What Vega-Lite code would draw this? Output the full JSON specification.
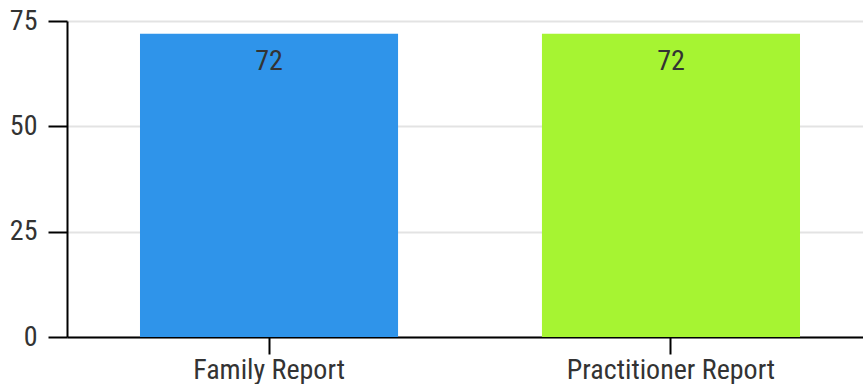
{
  "$schema": "https://vega.github.io/schema/vega-lite/v6.json",
  "autosize": {"type": "none"},
  "width": 796,
  "height": 316,
  "padding": {"left": 67, "top": 21, "right": 0, "bottom": 47},
  "background": "white",
  "data": {"values": [
    {"report": "Family Report", "value": 72},
    {"report": "Practitioner Report", "value": 72}
  ]},
  "config": {
    "view": {"stroke": null},
    "font": "Roboto Condensed, Roboto"
  },
  "encoding": {
    "x": {
      "field": "report", "type": "nominal", "sort": null,
      "scale": {"range": [0, 806], "paddingInner": 0.358, "paddingOuter": 0.1816},
      "axis": {
        "title": null, "labelAngle": 0, "labelFontSize": 28, "labelColor": "#333333",
        "labelFont": "Roboto Condensed, Roboto", "labelLimit": 0,
        "domainColor": "#000000", "domainWidth": 2, "tickColor": "#000000", "tickWidth": 2,
        "tickSize": 17, "labelPadding": 2, "grid": false
      }
    },
    "y": {
      "field": "value", "type": "quantitative",
      "scale": {"domain": [0, 75], "nice": false},
      "axis": {
        "title": null, "values": [0, 25, 50, 75], "labelFontSize": 28, "labelColor": "#333333",
        "labelFont": "Roboto Condensed, Roboto",
        "domainColor": "#000000", "domainWidth": 2, "tickColor": "#000000", "tickWidth": 2,
        "tickSize": 19, "labelPadding": 11, "gridColor": "#e3e3e3", "gridWidth": 2
      }
    }
  },
  "layer": [
    {
      "mark": {"type": "bar"},
      "encoding": {
        "color": {
          "field": "report", "type": "nominal", "legend": null,
          "scale": {"domain": ["Family Report", "Practitioner Report"], "range": ["#2f94ea", "#a6f432"]}
        }
      }
    },
    {
      "mark": {"type": "text", "baseline": "top", "dy": 14, "fontSize": 28, "color": "#333333", "font": "Roboto Condensed, Roboto"},
      "encoding": {"text": {"field": "value", "type": "quantitative"}}
    }
  ]
}
